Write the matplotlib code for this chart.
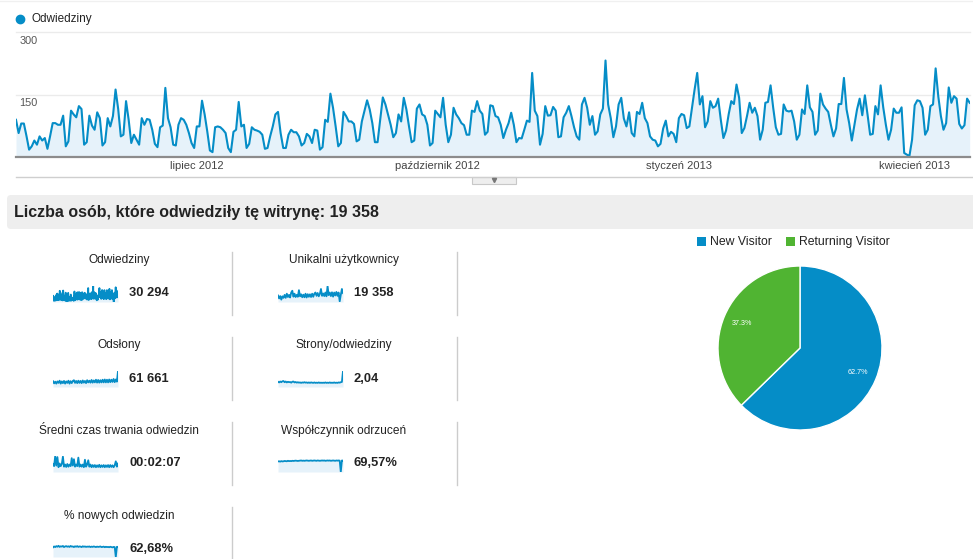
import matplotlib
matplotlib.use("Agg")
import matplotlib.pyplot as plt
import matplotlib.patches as patches
import pandas as pd

plt.rcParams['font.family'] = ['Liberation Sans', 'DejaVu Sans']

# daily visits, 23.04.2012 - 22.04.2013
visits = [89, 57, 80, 80, 50, 17, 25, 39, 29, 49, 39, 45, 19, 49, 81, 81, 77, 77, 99, 25,
          37, 111, 102, 95, 122, 115, 29, 35, 99, 75, 65, 107, 93, 27, 35, 93, 73, 98, 162, 115,
          49, 53, 134, 89, 33, 53, 41, 29, 93, 77, 91, 89, 65, 31, 23, 71, 75, 166, 93, 71, 29,
          27, 77, 93, 89, 77, 57, 33, 21, 73, 73, 135, 102, 61, 15, 11, 71, 73, 71, 65, 57,
          21, 11, 60, 65, 132, 73, 77, 21, 31, 71, 65, 63, 60, 53, 19, 21, 49, 73, 102, 108,
          57, 21, 21, 53, 65, 59, 59, 49, 27, 33, 55, 49, 33, 65, 63, 17, 23, 89, 84, 152,
          118, 73, 25, 33, 108, 98, 85, 85, 79, 37, 41, 85, 110, 136, 114, 81, 35, 35, 89, 143,
          126, 102, 77, 47, 57, 102, 85, 142, 114, 73, 35, 39, 116, 126, 102, 98, 77, 27, 33, 111,
          103, 95, 142, 77, 35, 53, 118, 102, 93, 81, 76, 53, 53, 111, 108, 134, 111, 103, 53, 60, 124,
          122, 98, 95, 77, 45, 65, 81, 106, 77, 35, 45, 44, 65, 87, 84, 202, 111, 98, 29, 55,
          122, 99, 100, 120, 111, 47, 49, 95, 106, 122, 98, 71, 49, 41, 126, 142, 118, 77, 98, 53,
          61, 102, 116, 232, 126, 93, 47, 73, 126, 142, 92, 73, 107, 57, 49, 108, 103, 130, 93, 81, 49,
          41, 39, 25, 31, 68, 87, 49, 60, 55, 35, 93, 103, 100, 69, 73, 118, 162, 202, 126, 146,
          71, 85, 134, 118, 122, 140, 89, 45, 63, 102, 134, 127, 174, 142, 57, 69, 98, 130, 106, 118,
          98, 41, 65, 130, 132, 172, 118, 71, 53, 55, 126, 111, 109, 111, 85, 41, 53, 114, 103, 172,
          119, 108, 53, 63, 152, 126, 116, 108, 77, 49, 68, 127, 127, 190, 114, 81, 39, 77, 114, 140,
          100, 148, 102, 53, 55, 122, 102, 172, 119, 77, 41, 65, 116, 106, 106, 119, 9, 5, 2, 41,
          124, 136, 134, 118, 53, 65, 122, 126, 213, 146, 98, 65, 81, 167, 130, 146, 140, 79, 68, 76,
          140, 130]
dates = pd.date_range('2012-04-23', periods=len(visits), freq='D')
month_ticks = pd.to_datetime(['2012-07-01', '2012-10-01', '2013-01-01', '2013-04-01'])
month_labels = ['lipiec 2012', 'październik 2012', 'styczeń 2013', 'kwiecień 2013']
y_ticks = [150, 300]

# sparklines
unique_spark = [55, 30, 50, 20, 48, 35, 60, 35, 70, 42, 60, 38, 80, 95, 45, 70, 42, 60, 44, 100,
                48, 65, 40, 62, 40, 70, 38, 66, 44, 65, 42, 70, 44, 70, 80, 52, 76, 48, 68, 110,
                52, 72, 50, 80, 48, 135, 58, 80, 50, 82, 45, 80, 55, 85, 52, 80, 5, 60, 110, 75]
pageviews_spark = [120, 75, 110, 70, 115, 85, 130, 70, 115, 80, 125, 70, 115, 85, 130, 70, 120, 80, 125, 140,
                   85, 125, 80, 130, 85, 125, 80, 135, 90, 125, 80, 140, 95, 130, 90, 145, 90, 135, 95, 150,
                   90, 145, 90, 140, 95, 150, 95, 155, 95, 150, 95, 155, 100, 150, 105, 165, 100, 155, 110, 330]
pages_spark = [2.3, 2.0, 2.4, 2.1, 2.5, 2.6, 2.1, 2.4, 2.0, 2.3, 2.1, 2.2, 1.9, 2.3, 2.4, 2.0, 2.2, 1.9, 2.1, 1.9,
               2.0, 1.8, 2.0, 1.9, 2.1, 1.9, 2.0, 1.8, 2.0, 1.8, 2.0, 1.9, 1.8, 2.0, 1.8, 1.9, 1.8, 2.0, 1.8, 1.9,
               1.8, 1.9, 1.8, 2.0, 1.8, 1.9, 1.8, 2.0, 1.8, 1.9, 1.8, 2.0, 1.8, 1.9, 1.8, 2.0, 1.9, 2.1, 2.2, 7.0]
time_spark = [150, 110, 300, 120, 280, 90, 160, 110, 150, 290, 100, 140, 95, 150, 100, 140, 110, 260, 120, 240,
              100, 140, 110, 270, 100, 140, 100, 140, 90, 230, 100, 140, 220, 100, 140, 90, 130, 95, 130, 90,
              125, 95, 135, 90, 125, 95, 130, 90, 125, 95, 130, 90, 130, 95, 125, 90, 125, 200, 100, 160]
bounce_spark = [66, 67, 65, 68, 66, 67, 69, 68, 67, 70, 68, 69, 68, 70, 69, 70, 71, 70, 69, 70,
                71, 72, 70, 71, 70, 71, 72, 71, 70, 71, 72, 70, 71, 72, 71, 70, 72, 71, 70, 71,
                72, 71, 72, 70, 71, 72, 71, 72, 70, 71, 72, 71, 70, 72, 71, 72, 71, 0, 72, 71]
new_spark = [60, 66, 62, 68, 64, 70, 63, 67, 65, 69, 62, 66, 68, 64, 67, 63, 69, 65, 66, 62,
             67, 64, 68, 63, 66, 65, 62, 67, 64, 66, 63, 65, 64, 66, 62, 65, 63, 66, 64, 62,
             65, 63, 64, 66, 62, 63, 65, 61, 64, 62, 63, 61, 64, 62, 60, 63, 62, 0, 64, 62]

metric_names = ['Odwiedziny', 'Unikalni użytkownicy', 'Odsłony', 'Strony/odwiedziny',
                'Średni czas trwania odwiedzin', 'Współczynnik odrzuceń', '% nowych odwiedzin']
metric_values = ['30 294', '19 358', '61 661', '2,04', '00:02:07', '69,57%', '62,68%']
metric_sparks = [visits, unique_spark, pageviews_spark, pages_spark, time_spark, bounce_spark, new_spark]
spark_top = [None, None, None, None, None, 100, 100]

pie_labels = ['New Visitor', 'Returning Visitor']
pie_values = [62.7, 37.3]

BLUE = '#058DC7'
GREEN = '#50B432'
FILL = '#E6F2FA'

W, H = 973, 559
fig = plt.figure(figsize=(W / 100, H / 100), dpi=100)
fig.patch.set_facecolor('white')


def box(x0, y0, x1, y1):
    return [x0 / W, 1 - y1 / H, (x1 - x0) / W, (y1 - y0) / H]


# background axes in pixel coordinates
bg = fig.add_axes([0, 0, 1, 1])
bg.set_xlim(0, W)
bg.set_ylim(H, 0)
bg.axis('off')

# top legend
bg.plot([20], [19], 'o', color=BLUE, markersize=6)
bg.text(31, 19, 'Odwiedziny', fontsize=8.5, va='center', color='#222')
bg.plot([0, W], [1, 1], color='#f0f0f0', lw=1)

# main chart
ax = fig.add_axes(box(16, 32.3, 969.7, 156.7))
ax.set_facecolor('none')
ax.fill_between(dates, visits, 0, color=FILL, lw=0)
ax.plot(dates, visits, color=BLUE, lw=1.5)
ax.set_xlim(dates[0], dates[-1])
ax.set_ylim(0, 300)
ax.set_yticks([])
for s in ['top', 'left', 'right']:
    ax.spines[s].set_visible(False)
ax.spines['bottom'].set_color('#8c8c8c')
ax.spines['bottom'].set_linewidth(1.6)
ax.set_xticks(month_ticks)
ax.set_xticklabels(month_labels, fontsize=8, color='#444')
ax.tick_params(axis='x', length=0, pad=3)
for v in y_ticks:
    ax.axhline(v, color='#ebebeb', lw=1, clip_on=False, zorder=0)
    ax.annotate(str(v), xy=(0, v), xycoords=('axes fraction', 'data'),
                xytext=(2.5, -2.5), textcoords='offset points', fontsize=7.8,
                color='#555', va='top', ha='left')
bg.plot([16, W], [176.5, 176.5], color='#cfcfcf', lw=1)
bg.add_patch(patches.Rectangle((472, 176.5), 44, 7, facecolor='#eeeeee',
                               edgecolor='#c8c8c8', lw=0.8))
bg.plot([494], [179.6], 'v', color='#777', markersize=3)

# header bar
bg.add_patch(patches.FancyBboxPatch((7, 195), 975, 34, boxstyle='round,pad=0,rounding_size=4',
                                    facecolor='#eeeeee', edgecolor='none'))
bg.text(14, 213, 'Liczba osób, które odwiedziły tę witrynę: 19 358', fontsize=11.5,
        fontweight='bold', va='center', color='#222')

# metrics grid
for i, (name, val, data, top) in enumerate(zip(metric_names, metric_values, metric_sparks, spark_top)):
    col, row = i % 2, i // 2
    cx = [119, 344][col]
    ty = 260 + 85.3 * row
    bottom = 302 + 85 * row
    sx = [53, 278][col]
    bg.text(cx, ty, name, fontsize=8.6, ha='center', va='center', color='#222')
    bg.text([129, 354][col], bottom - 8.5, val, fontsize=9.3, fontweight='bold',
            va='center', color='#222')
    sep = [232, 457][col]
    bg.plot([sep, sep], [252 + 85 * row, min(315 + 85 * row, H)], color='#cccccc', lw=1)
    sa = fig.add_axes(box(sx, bottom - 16, sx + 65, bottom))
    sa.set_facecolor('none')
    sa.fill_between(range(len(data)), data, 0, color=FILL, lw=0)
    sa.plot(range(len(data)), data, color=BLUE, lw=1.3)
    sa.set_xlim(0, len(data) - 1)
    sa.set_ylim(0, top if top else max(data))
    sa.axis('off')

# pie legend
bg.add_patch(patches.Rectangle((697, 237), 9, 9, facecolor=BLUE, edgecolor='none'))
bg.text(710, 242, pie_labels[0], fontsize=8.8, va='center', color='#222')
bg.add_patch(patches.Rectangle((786, 237), 9, 9, facecolor=GREEN, edgecolor='none'))
bg.text(799, 242, pie_labels[1], fontsize=8.8, va='center', color='#222')

# pie
pa = fig.add_axes(box(718, 266, 882, 430))
wedges, texts, autotexts = pa.pie(pie_values, colors=[BLUE, GREEN], startangle=90,
                                  counterclock=False, autopct='%1.1f%%', pctdistance=0.77,
                                  wedgeprops=dict(edgecolor='white', linewidth=1))
for t in autotexts:
    t.set_color('white')
    t.set_fontsize(5.2)
pa.set_xlim(-1, 1)
pa.set_ylim(-1, 1)
pa.set_aspect('equal')

fig.savefig('out.png', dpi=100)
